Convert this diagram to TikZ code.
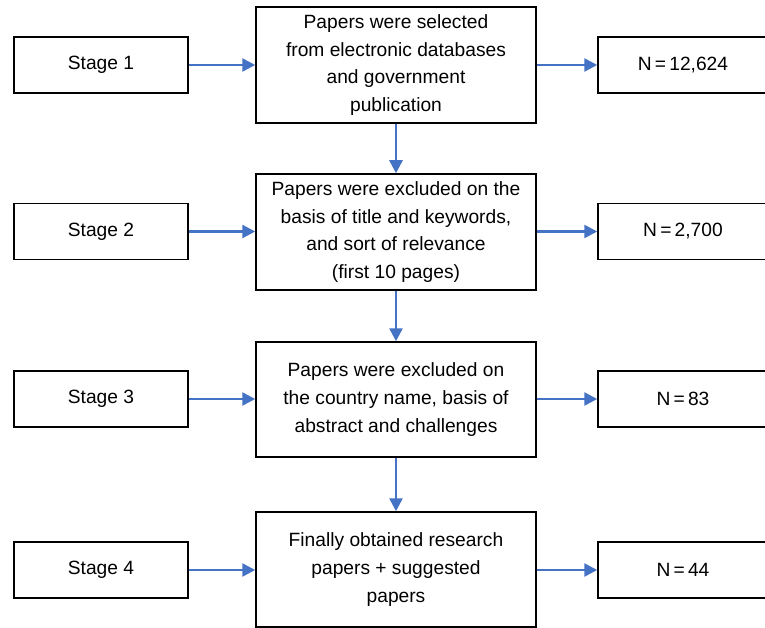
\documentclass[tikz,border=0pt]{standalone}
\usepackage{fontspec}
\setmainfont{Liberation Sans}
\usetikzlibrary{arrows.meta}
\definecolor{flowblue}{HTML}{4472C4}
\begin{document}
\begin{tikzpicture}[x=1pt,y=-1pt,
  box/.style={draw=black,line width=1.5pt,rectangle,inner sep=0pt,align=center,
    font=\fontsize{19.2}{27.6}\selectfont},
  stagebox/.style={box,minimum width=174pt,minimum height=56pt},
  mainbox/.style={box,minimum width=280pt,minimum height=116pt},
  countbox/.style={box,minimum width=170pt,minimum height=56pt,text width=170pt},
  flow/.style={draw=flowblue,line width=2.5pt,-{Triangle[length=13pt,width=13pt]}}]
\useasboundingbox (0,0) rectangle (765,628);
\clip (0,0) rectangle (765,628);

% left column: stage labels
\node[stagebox] (s1) at (101,65)    {Stage 1};
\node[stagebox] (s2) at (101,231.5) {Stage 2};
\node[stagebox] (s3) at (101,399)   {Stage 3};
\node[stagebox] (s4) at (101,570)   {Stage 4};

% middle column: screening steps
\node[mainbox] (m1) at (396,65)    {Papers were selected\\from electronic databases\\and government\\publication};
\node[mainbox] (m2) at (396,232)   {Papers were excluded on the\\basis of title and keywords,\\and sort of relevance\\(first 10 pages)};
\node[mainbox,minimum height=115pt] (m3) at (396,399.5) {Papers were excluded on\\the country name, basis of\\abstract and challenges};
\node[mainbox,minimum height=115pt] (m4) at (396,569.5) {Finally obtained research\\papers + suggested\\papers};

% right column: paper counts (box runs past the right margin)
\node[countbox] (n1) at (683,65)    {N\,=\,12,624};
\node[countbox] (n2) at (683,231.5) {N\,=\,2,700};
\node[countbox] (n3) at (683,399)   {N\,=\,83};
\node[countbox] (n4) at (683,570)   {N\,=\,44};

% connectors
\foreach \i in {1,2,3,4} {
  \draw[flow] (s\i.east) -- (s\i.east -| m\i.west);
  \draw[flow] (m\i.east |- n\i.west) -- (n\i.west);
}
\draw[flow] (m1.south) -- (m2.north);
\draw[flow] (m2.south) -- (m3.north);
\draw[flow] (m3.south) -- (m4.north);
\end{tikzpicture}
\end{document}
